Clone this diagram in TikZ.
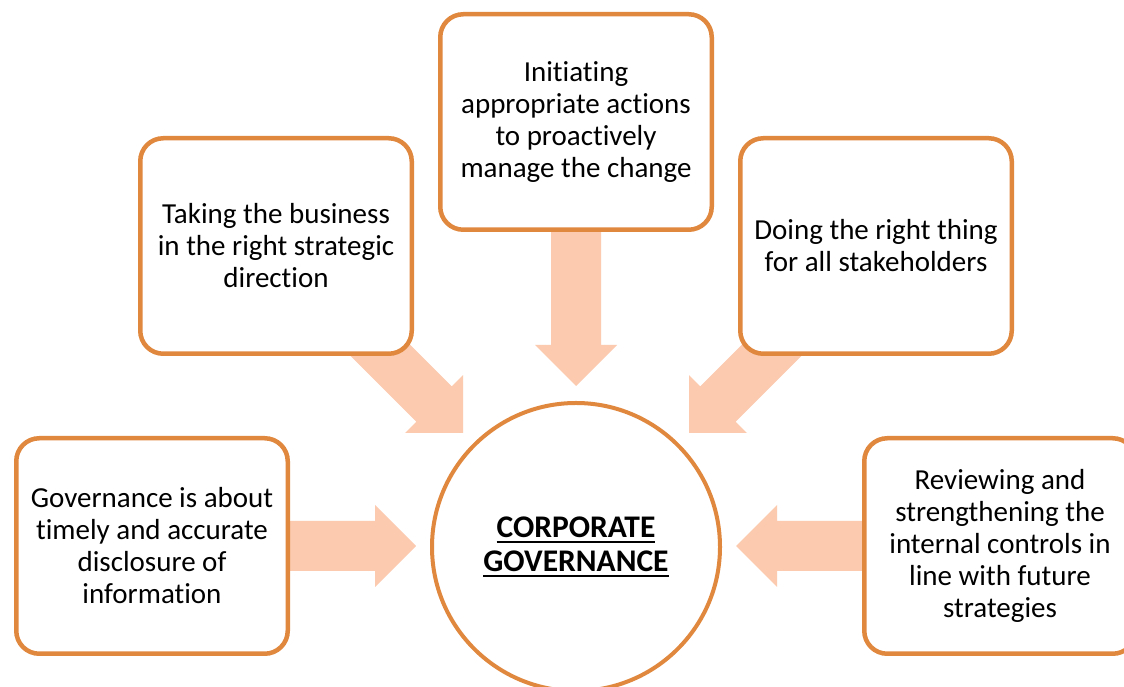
\documentclass[tikz,border=0pt]{standalone}
\usepackage{fontspec}
\setmainfont{Carlito}[Ligatures={NoCommon}]
\definecolor{boxorange}{HTML}{E1883F}
\definecolor{peach}{HTML}{FBCAAF}
\newcommand\myul[1]{\setbox0\hbox{#1}\rlap{\raisebox{-6pt}{\rule{\wd0}{2.6pt}}}\box0}
\tikzset{
  infobox/.style={draw=boxorange, line width=4.5pt, fill=white, rounded corners=23pt,
    minimum width=271.5pt, minimum height=215.5pt, align=center, inner sep=0pt,
    font=\fontsize{29}{32}\selectfont},
  hub/.style={circle, draw=boxorange, line width=4pt, fill=white, minimum size=288pt,
    align=center, inner sep=0pt, font=\fontsize{31.5}{34}\selectfont\bfseries},
  pics/bigarrow/.style={code={
    \fill[peach] (0,0) -- (-41,41) -- (-41,25) -- (-#1,25) -- (-#1,-25) -- (-41,-25) -- (-41,-41) -- cycle;}}
}
\begin{document}
\begin{tikzpicture}[x=1pt,y=1pt]
\useasboundingbox (0,0) rectangle (1124,687);
% arrow tips
\coordinate (tipT) at (576,301);
\coordinate (tipTL) at (463,254);
\coordinate (tipTR) at (689,254);
\coordinate (tipL) at (416,141);
\coordinate (tipR) at (736,141);
% connectors (drawn beneath boxes)
\pic[rotate=-90] at (tipT) {bigarrow=190};
\pic[rotate=-45] at (tipTL) {bigarrow=160};
\pic[rotate=-135] at (tipTR) {bigarrow=160};
\pic[rotate=0] at (tipL) {bigarrow=160};
\pic[rotate=180] at (tipR) {bigarrow=160};
% boxes
\node[infobox] (top) at (576,565) {Initiating\\appropriate actions\\to proactively\\manage the change};
\node[infobox] (tl) at (276,441) {Taking the business\\in the right strategic\\direction};
\node[infobox] (tr) at (876,441) {Doing the right thing\\for all stakeholders};
\node[infobox] (l) at (152,141) {Governance is about\\timely and accurate\\disclosure of\\information};
\node[infobox] (r) at (1000,141) {Reviewing and\\strengthening the\\internal controls in\\line with future\\strategies};
\node[hub] (cg) at (576,140) {\myul{CORPORATE}\\\myul{GOVERNANCE}};
\end{tikzpicture}
\end{document}
